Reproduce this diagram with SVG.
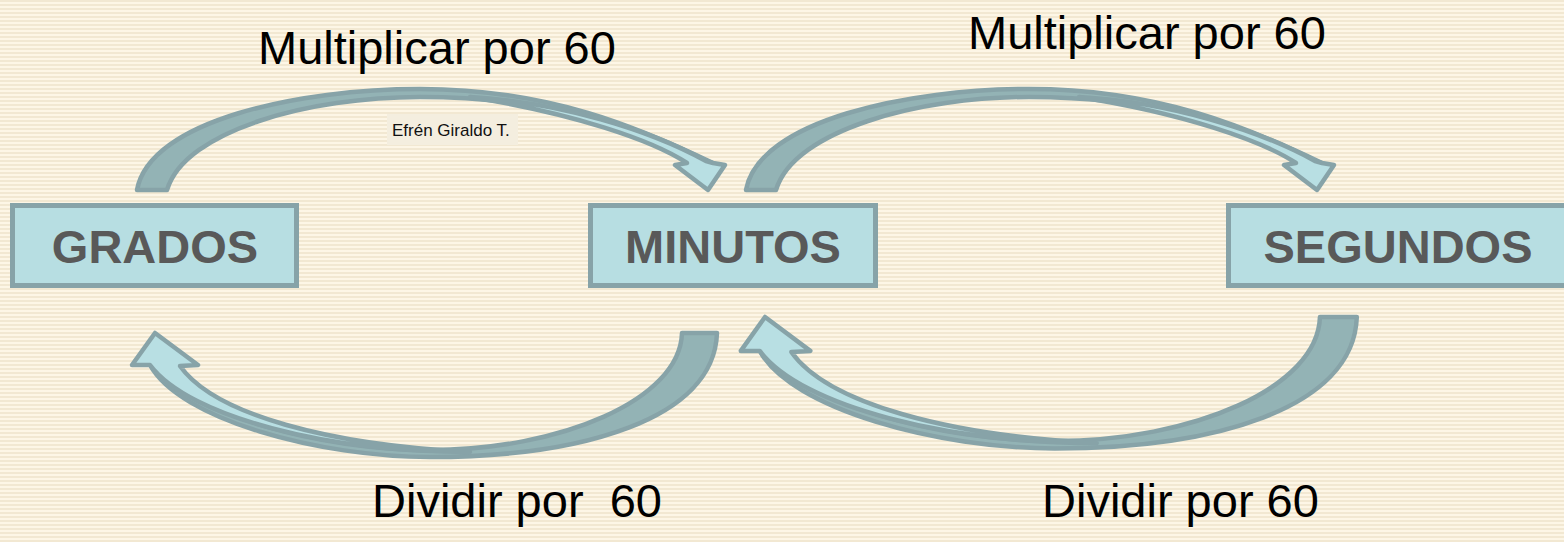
<svg xmlns="http://www.w3.org/2000/svg" width="1564" height="542" viewBox="0 0 1564 542">
<defs>
<pattern id="stripes" x="0" y="0" width="8" height="4" patternUnits="userSpaceOnUse">
<rect x="0" y="0" width="8" height="2" fill="#F2E8D2"/>
<rect x="0" y="2" width="8" height="2" fill="#FDF6E6"/>
</pattern>
<g id="arrowTop">
<path class="back" d="M137,190 C150,120 300,89 420,89 C550,89 640,128 713,163 L706,161 C640,124 540,97 420,97 C310,97 185,130 167,190 Z"/>
<path class="front" d="M470,97 C560,102 650,130 706,161 L713,163 L725,165 L708,190 L675,165 L687,163 C652,140 572,113 470,97 Z"/>
</g>
<g id="arrowBottom">
<path class="back" d="M717,333 C714,420 580,457 430,457 C320,457 180,420 150,365 L156,364 C190,415 320,450 430,450 C560,450 680,400 682,333 Z"/>
<path class="front" d="M470,452 C330,452 190,418 150,365 L132,365 L155,333 L198,365 L180,366 C215,415 330,445 470,452 Z"/>
</g>
</defs>
<style>
.box{fill:#B7DEE2;stroke:#87A3A8;stroke-width:5}
.boxtext{font-family:"Liberation Sans",Arial,sans-serif;font-weight:bold;font-size:47px;fill:#595959;text-anchor:middle}
.label{font-family:"Liberation Sans",Arial,sans-serif;font-size:47px;fill:#000000}
.back{fill:#93B3B5;stroke:#87A3A8;stroke-width:4.5;stroke-linejoin:round;vector-effect:non-scaling-stroke}
.front{fill:#B8DFE3;stroke:#87A3A8;stroke-width:4.5;stroke-linejoin:round;vector-effect:non-scaling-stroke}
</style>
<rect x="0" y="0" width="1564" height="542" fill="url(#stripes)"/>
<g id="connectors">
<use href="#arrowTop"/>
<use href="#arrowTop" transform="translate(609,0)"/>
<use href="#arrowBottom"/>
<use href="#arrowBottom" transform="translate(601.8,-35.98) scale(1.053,1.06)"/>
</g>
<g id="grados">
<rect class="box" x="12.5" y="205.5" width="284" height="80"/>
<text class="boxtext" x="155" y="263">GRADOS</text>
</g>
<g id="minutos">
<rect class="box" x="590.5" y="205.5" width="285" height="80"/>
<text class="boxtext" x="733" y="263">MINUTOS</text>
</g>
<g id="segundos">
<rect class="box" x="1228.5" y="205.5" width="340" height="80"/>
<text class="boxtext" x="1398" y="263">SEGUNDOS</text>
</g>
<g id="labels">
<text class="label" x="258" y="64">Multiplicar por 60</text>
<text class="label" x="968" y="49">Multiplicar por 60</text>
<text class="label" x="372" y="517" xml:space="preserve">Dividir por  60</text>
<text class="label" x="1042" y="517">Dividir por 60</text>
<rect x="387" y="114" width="131" height="31" fill="#F4EEDF"/>
<text x="392" y="136" font-family="Liberation Sans, Arial, sans-serif" font-size="17" fill="#111111">Efrén Giraldo T.</text>
</g>
</svg>
